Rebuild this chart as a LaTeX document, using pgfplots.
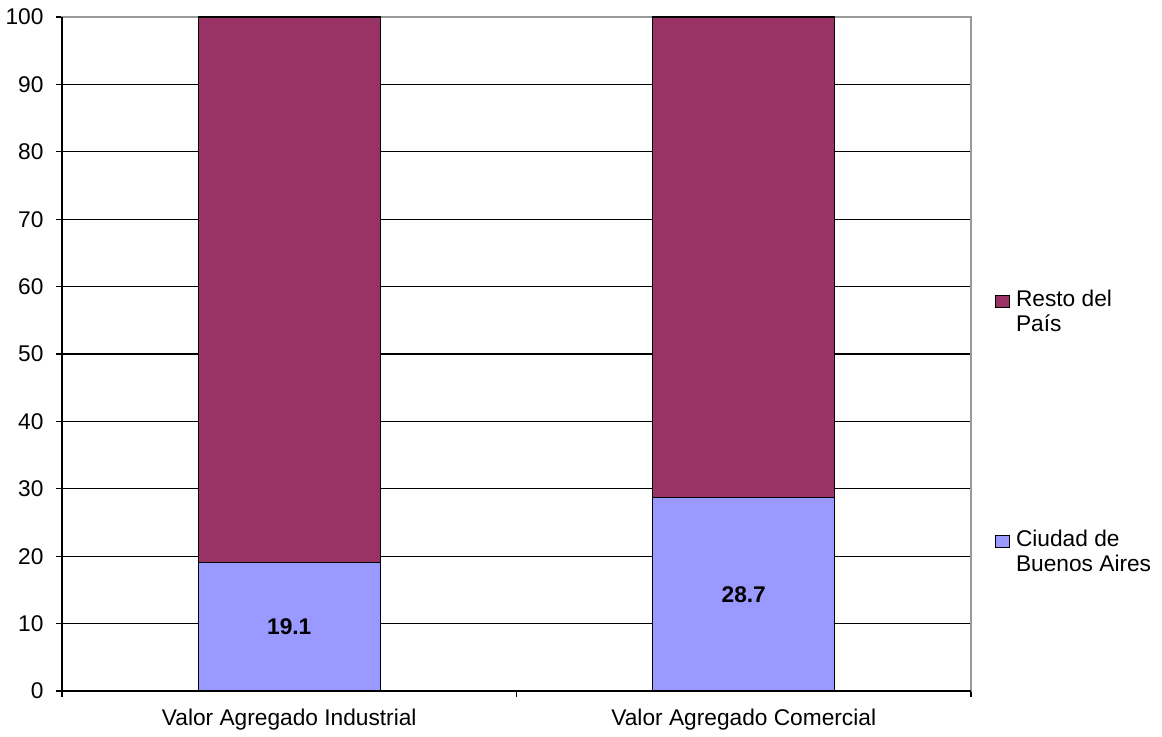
\documentclass[border=0pt]{standalone}
\usepackage{pgfplots}
\pgfplotsset{compat=1.18}
\usepackage{fontspec}
\setmainfont{Liberation Sans}
\definecolor{resto}{HTML}{993366}
\definecolor{ciudad}{HTML}{9999FF}
\definecolor{frame}{HTML}{999999}
\newcommand{\chartfont}{\fontsize{22.8}{25}\selectfont}
\begin{document}
\begin{tikzpicture}
\path[use as bounding box] (-62bp,-46bp) rectangle (1100bp,691bp);
\begin{axis}[
  at={(0,0)}, anchor=south west,
  x=454.5bp, y=6.74bp,
  xmin=-0.5, xmax=1.5, ymin=0, ymax=100,
  ybar stacked, bar width=0.4,
  axis line style={draw=frame, line width=1.3bp},
  ymajorgrids, grid style={black, line width=1.1bp},
  tick pos=left, tick align=outside,
  major tick length=6bp,
  tick style={black, line width=1.1bp},
  ytick={0,10,...,100},
  xtick={-0.5,0.5,1.5}, xticklabels={},
  extra x ticks={0,1},
  extra x tick labels={Valor Agregado Industrial, Valor Agregado Comercial},
  extra x tick style={major tick length=0pt},
  /pgf/number format/assume math mode=true,
  tick label style={font=\chartfont},
  yticklabel style={xshift=-9bp},
  xticklabel style={yshift=-15bp},
  reverse legend,
  legend style={at={(axis description cs:1.026,0.598)}, anchor=north west,
    draw=none, fill=none, inner sep=0pt, font=\chartfont,
    cells={align=left, anchor=west}, row sep=193bp, column sep=4bp},
  legend image code/.code={\draw[#1,draw=black,line width=1.2bp] (0bp,4bp) rectangle (14bp,16bp);},
  after end axis/.code={\draw[black, line width=1.3bp] (rel axis cs:0,1) -- (rel axis cs:0,0) -- (rel axis cs:1,0);},
]
% stacked bars put their value labels in the middle of each segment
\addplot+[fill=ciudad, draw=black, line width=1.1bp,
  nodes near coords,
  every node near coord/.append style={anchor=center, font=\chartfont\bfseries, text=black,
    /pgf/number format/fixed, /pgf/number format/precision=1}]
  coordinates {(0,19.1) (1,28.7)};
\addlegendentry{Ciudad de\\Buenos Aires}
\addplot+[fill=resto, draw=black, line width=1.1bp]
  coordinates {(0,80.9) (1,71.3)};
\addlegendentry{Resto del\\País}
\end{axis}
\end{tikzpicture}
\end{document}
